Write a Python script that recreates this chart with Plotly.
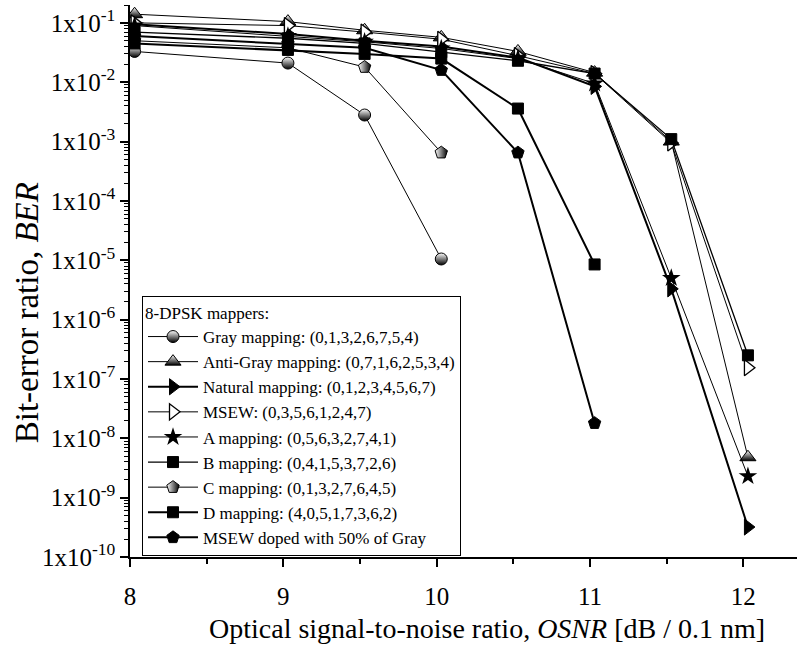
import numpy as np
import plotly.graph_objects as go

# ---------------- data ----------------
osnr = [8.03, 9.03, 9.53, 10.03, 10.53, 11.03, 11.53, 12.03]

gray = [0.033, 0.021, 0.0028, 1.05e-5]
anti_gray = [0.14, 0.105, 0.075, 0.057, 0.033, 0.0145, 1.0e-3, 4.8e-9]
natural = [0.095, 0.065, 0.05, 0.04, 0.026, 8.5e-3, 3.3e-6, 3.2e-10]
msew = [0.10, 0.09, 0.07, 0.053, 0.028, 0.014, 9.5e-4, 1.55e-7]
a_map = [0.09, 0.06, 0.048, 0.037, 0.025, 0.0095, 5e-6, 2.3e-9]
b_map = [0.07, 0.055, 0.045, 0.032, 0.023, 0.014, 1.1e-3, 2.5e-7]
c_map = [0.05, 0.038, 0.018, 6.5e-4]
d_map = [0.045, 0.035, 0.03, 0.025, 3.6e-3, 8.5e-6]
doped = [0.06, 0.045, 0.038, 0.016, 6.5e-4, 1.8e-8]

names = [
    "Gray mapping: (0,1,3,2,6,7,5,4)",
    "Anti-Gray mapping: (0,7,1,6,2,5,3,4)",
    "Natural mapping: (0,1,2,3,4,5,6,7)",
    "MSEW: (0,3,5,6,1,2,4,7)",
    "A mapping: (0,5,6,3,2,7,4,1)",
    "B mapping: (0,4,1,5,3,7,2,6)",
    "C mapping: (0,1,3,2,7,6,4,5)",
    "D mapping: (4,0,5,1,7,3,6,2)",
    "MSEW doped with 50% of Gray",
]
y_tick_exps = list(range(-1, -11, -1))
x_ticks = [8, 9, 10, 11, 12]

FONT = "Liberation Serif"

series = [
    (gray, dict(symbol="circle", size=12, color="white", gradient=dict(type="vertical", color="black"), line=dict(color="black", width=1)), 1.0),
    (anti_gray, dict(symbol="triangle-up", size=14, color="white", gradient=dict(type="vertical", color="black"), line=dict(color="black", width=1)), 1.0),
    (natural, dict(symbol="triangle-right", size=14, color="black", line=dict(color="black", width=1)), 2.0),
    (msew, dict(symbol="triangle-right", size=14, color="white", line=dict(color="black", width=1.3)), 1.0),
    (a_map, dict(symbol="star", size=14, color="black", line=dict(color="black", width=0)), 1.0),
    (b_map, dict(symbol="square", size=11, color="black", line=dict(color="black", width=1)), 1.3),
    (c_map, dict(symbol="pentagon", size=13, color="white", gradient=dict(type="horizontal", color="black"), line=dict(color="black", width=1)), 1.0),
    (d_map, dict(symbol="square", size=11, color="black", line=dict(color="black", width=1)), 2.0),
    (doped, dict(symbol="pentagon", size=13, color="black", line=dict(color="black", width=1)), 2.0),
]

fig = go.Figure()
for (vals, mk, lw), nm in zip(series, names):
    fig.add_trace(go.Scatter(
        x=osnr[:len(vals)], y=vals, name=nm, mode="lines+markers",
        line=dict(color="black", width=lw), marker=mk,
    ))

yr = [-10, np.log10(0.2)]
xr = [8, 12.35]
minor_y = [m * 10.0 ** e for e in range(-10, 0) for m in range(2, 10)]

fig.update_layout(
    width=800, height=645,
    margin=dict(l=130, r=3, t=5, b=88, autoexpand=False),
    paper_bgcolor="white", plot_bgcolor="white",
    font=dict(family=FONT, color="black", size=19),
    showlegend=True,
    legend=dict(
        x=0.018, y=0.473, xanchor="left", yanchor="top",
        bgcolor="white", bordercolor="black", borderwidth=1,
        font=dict(family=FONT, size=17, color="black"),
        title=dict(text="8-DPSK mappers:", font=dict(family=FONT, size=17)),
        itemwidth=50, tracegroupgap=0,
    ),
    xaxis=dict(
        range=xr, showgrid=False, zeroline=False, automargin=False,
        showline=True, linecolor="black", linewidth=1.5,
        ticks="outside", ticklen=8, tickwidth=1.5, tickcolor="black",
        tickvals=x_ticks, ticktext=[str(v) for v in x_ticks],
        minor=dict(tickvals=[8.5, 9.5, 10.5, 11.5], ticks="outside", ticklen=5, tickwidth=1.5, tickcolor="black"),
        tickfont=dict(family=FONT, size=25), ticklabelstandoff=8,
    ),
    xaxis2=dict(
        range=xr, overlaying="x", side="top", showgrid=False, zeroline=False,
        showline=True, linecolor="black", linewidth=1.5,
        ticks="inside", ticklen=7, tickwidth=1.5, tickcolor="black",
        tickvals=x_ticks, showticklabels=False,
        minor=dict(tickvals=[8.5, 9.5, 10.5, 11.5], ticks="inside", ticklen=5, tickwidth=1.5, tickcolor="black"),
    ),
    yaxis=dict(
        type="log", range=yr, showgrid=False, zeroline=False, automargin=False,
        showline=True, linecolor="black", linewidth=1.5,
        ticks="outside", ticklen=8, tickwidth=1.5, tickcolor="black",
        tickvals=[10.0 ** e for e in y_tick_exps],
        ticktext=["1x10<sup>%d</sup>" % e for e in y_tick_exps],
        minor=dict(tickvals=minor_y, ticks="outside", ticklen=4, tickwidth=1, tickcolor="black"),
        tickfont=dict(family=FONT, size=25),
    ),
    yaxis2=dict(
        type="log", range=yr, overlaying="y", side="right", showgrid=False, zeroline=False,
        showline=True, linecolor="#bbbbbb", linewidth=1,
        ticks="inside", ticklen=7, tickwidth=1.3, tickcolor="black",
        tickvals=[10.0 ** e for e in y_tick_exps], showticklabels=False,
        minor=dict(tickvals=minor_y, ticks="inside", ticklen=3, tickwidth=1, tickcolor="#888888"),
    ),
    annotations=[
        dict(
            text="Bit-error ratio, <i>BER</i>", textangle=-90,
            xref="paper", yref="paper", x=-0.154, y=0.442, xanchor="center", yanchor="middle",
            showarrow=False, font=dict(family=FONT, size=33, color="black"),
        ),
        dict(
            text="Optical signal-to-noise ratio, <i>OSNR</i> [dB / 0.1 nm]",
            xref="paper", yref="paper", x=0.535, y=-0.13, xanchor="center", yanchor="middle",
            showarrow=False, font=dict(family=FONT, size=28, color="black"),
        ),
    ],
)

fig.write_html("out.html")
